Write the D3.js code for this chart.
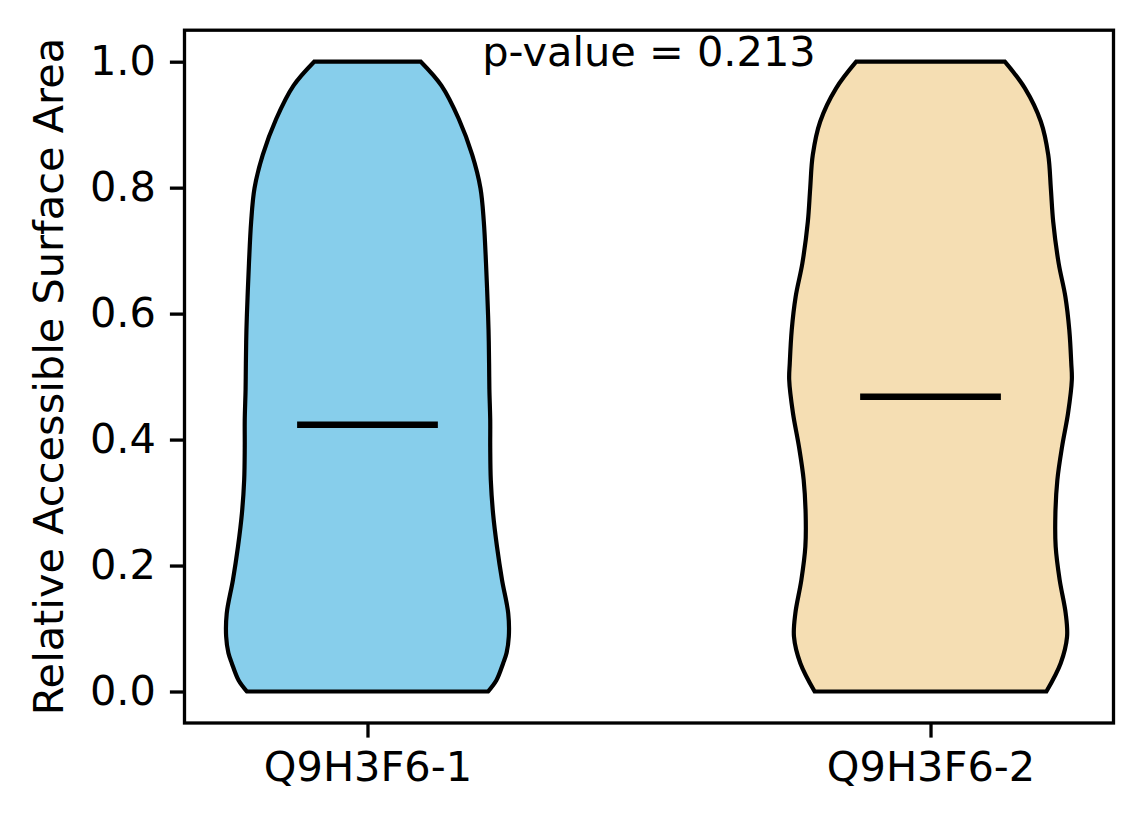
<!DOCTYPE html>
<html>
<head>
<meta charset="utf-8">
<script src="https://cdn.jsdelivr.net/npm/d3@7"></script>
<style>
  html, body { margin: 0; padding: 0; background: #fff; }
  svg { display: block; }
  text { font-family: "DejaVu Sans", sans-serif; fill: #000; }
</style>
</head>
<body>
<svg id="chart" width="1144" height="824"></svg>
<script>
// ---- data ----
const categories = ["Q9H3F6-1", "Q9H3F6-2"];
const positions = [1, 2];
const colors = ["#87CEEB", "#F5DEB3"];
const medians = [0.4236, 0.468];
const pValueText = "p-value = 0.213";
const yTicks = [0.0, 0.2, 0.4, 0.6, 0.8, 1.0];
const yLabel = "Relative Accessible Surface Area";

// violin outlines: [value, half-width in x units]
const violin1 = [
  [0.000, 0.214], [0.018, 0.229], [0.045, 0.241], [0.061, 0.247], [0.087, 0.251],
  [0.124, 0.250], [0.177, 0.239], [0.230, 0.230], [0.283, 0.223], [0.336, 0.219],
  [0.388, 0.218], [0.431, 0.218], [0.480, 0.2165], [0.521, 0.216], [0.574, 0.215],
  [0.626, 0.213], [0.680, 0.2105], [0.746, 0.2066], [0.799, 0.2007], [0.852, 0.186],
  [0.909, 0.1622], [0.962, 0.1314], [1.000, 0.0947]
];
const violin2 = [
  [0.000, 0.2058], [0.045, 0.2312], [0.087, 0.2425], [0.124, 0.2401], [0.177, 0.2294],
  [0.230, 0.2223], [0.283, 0.2218], [0.336, 0.2253], [0.389, 0.2337], [0.442, 0.2443],
  [0.495, 0.2510], [0.521, 0.2500], [0.574, 0.2465], [0.627, 0.2395], [0.680, 0.2276],
  [0.746, 0.2179], [0.799, 0.2137], [0.852, 0.2091], [0.905, 0.1959], [0.958, 0.1675],
  [1.000, 0.1320]
];
const violins = [violin1, violin2];

// ---- layout ----
const svg = d3.select("#chart");
const mLeft = 184.5, mRight = 1113.5, mTop = 30.2, mBottom = 723;
const fs = 41.5;

const x = d3.scaleLinear().domain([0.675, 2.325]).range([mLeft, mRight]);
const y = d3.scaleLinear().domain([-0.05, 1.05]).range([mBottom, mTop]);

// violins
violins.forEach((v, i) => {
  const p = positions[i];
  const area = d3.area()
    .curve(d3.curveCatmullRom.alpha(0.5))
    .y(d => y(d[0]))
    .x0(d => x(p - d[1]))
    .x1(d => x(p + d[1]));
  svg.append("path")
    .attr("d", area(v))
    .attr("fill", colors[i])
    .attr("stroke", "#000")
    .attr("stroke-width", 4.2)
    .attr("stroke-linejoin", "miter");
});

// median lines
medians.forEach((m, i) => {
  const p = positions[i];
  svg.append("line")
    .attr("x1", x(p - 0.125)).attr("x2", x(p + 0.125))
    .attr("y1", y(m)).attr("y2", y(m))
    .attr("stroke", "#000").attr("stroke-width", 6.5);
});

// axes
const yAxis = d3.axisLeft(y).tickValues(yTicks).tickFormat(d3.format(".1f"))
  .tickSize(14.6).tickPadding(14);
const gy = svg.append("g").attr("transform", `translate(${mLeft},0)`).call(yAxis);
gy.select(".domain").remove();
gy.selectAll(".tick line").attr("stroke", "#000").attr("stroke-width", 3.3);
gy.selectAll(".tick text").style("font-size", fs + "px").attr("font-family", "DejaVu Sans");

const xAxis = d3.axisBottom(x).tickValues(positions).tickFormat((d, i) => categories[i])
  .tickSize(14.6).tickPadding(14);
const gx = svg.append("g").attr("transform", `translate(0,${mBottom})`).call(xAxis);
gx.select(".domain").remove();
gx.selectAll(".tick line").attr("stroke", "#000").attr("stroke-width", 3.3);
gx.selectAll(".tick text").style("font-size", fs + "px").attr("font-family", "DejaVu Sans");

// frame
svg.append("rect")
  .attr("x", mLeft).attr("y", mTop)
  .attr("width", mRight - mLeft).attr("height", mBottom - mTop)
  .attr("fill", "none").attr("stroke", "#000").attr("stroke-width", 3.3);

// p-value text
svg.append("text")
  .attr("x", (mLeft + mRight) / 2)
  .attr("y", y(1.05) + 36)
  .attr("text-anchor", "middle")
  .style("font-size", fs + "px")
  .text(pValueText);

// y label
svg.append("text")
  .attr("transform", `translate(63,${(mTop + mBottom) / 2}) rotate(-90)`)
  .attr("text-anchor", "middle")
  .style("font-size", fs + "px")
  .text(yLabel);
</script>
</body>
</html>
